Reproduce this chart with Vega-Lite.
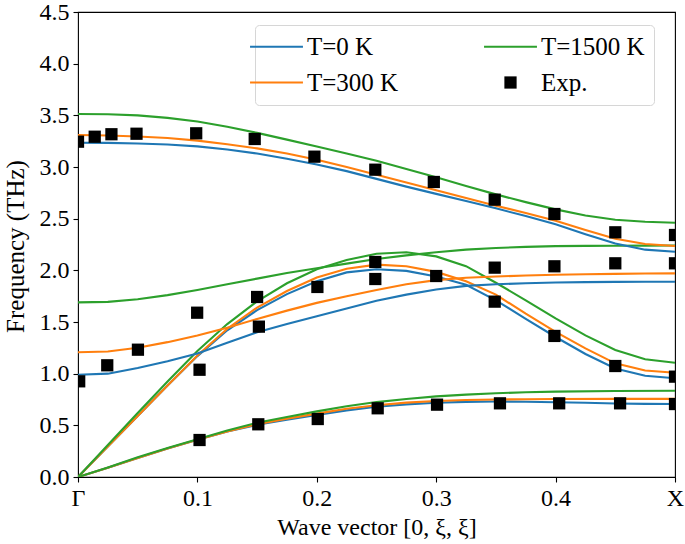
{
  "$schema": "https://vega.github.io/schema/vega-lite/v6.json",
  "width": 597,
  "height": 465,
  "autosize": {"type": "none"},
  "padding": {"left": 78, "top": 12, "right": 10, "bottom": 67},
  "background": "white",
  "config": {
    "view": {"stroke": "black", "strokeWidth": 1.1},
    "font": "Liberation Serif",
    "axis": {
      "labelFont": "Liberation Serif", "labelFontSize": 24, "labelColor": "black",
      "titleFont": "Liberation Serif", "titleFontSize": 24, "titleColor": "black", "titleFontWeight": "normal",
      "grid": false, "domain": false, "tickColor": "black", "tickWidth": 1.1, "tickSize": 5
    }
  },
  "datasets": {
    "curves": [
      {"series":"T=0 K","branch":"TA","q":0,"f":0},{"series":"T=0 K","branch":"TA","q":0.025,"f":0.09},{"series":"T=0 K","branch":"TA","q":0.05,"f":0.185},{"series":"T=0 K","branch":"TA","q":0.075,"f":0.275},{"series":"T=0 K","branch":"TA","q":0.1,"f":0.36},{"series":"T=0 K","branch":"TA","q":0.125,"f":0.44},{"series":"T=0 K","branch":"TA","q":0.15,"f":0.505},{"series":"T=0 K","branch":"TA","q":0.175,"f":0.555},{"series":"T=0 K","branch":"TA","q":0.2,"f":0.6},{"series":"T=0 K","branch":"TA","q":0.225,"f":0.645},{"series":"T=0 K","branch":"TA","q":0.25,"f":0.68},{"series":"T=0 K","branch":"TA","q":0.275,"f":0.703},{"series":"T=0 K","branch":"TA","q":0.3,"f":0.718},{"series":"T=0 K","branch":"TA","q":0.325,"f":0.727},{"series":"T=0 K","branch":"TA","q":0.35,"f":0.73},{"series":"T=0 K","branch":"TA","q":0.375,"f":0.728},{"series":"T=0 K","branch":"TA","q":0.4,"f":0.724},{"series":"T=0 K","branch":"TA","q":0.425,"f":0.718},{"series":"T=0 K","branch":"TA","q":0.45,"f":0.712},{"series":"T=0 K","branch":"TA","q":0.475,"f":0.708},{"series":"T=0 K","branch":"TA","q":0.5,"f":0.706},
      {"series":"T=300 K","branch":"TA","q":0,"f":0},{"series":"T=300 K","branch":"TA","q":0.025,"f":0.09},{"series":"T=300 K","branch":"TA","q":0.05,"f":0.185},{"series":"T=300 K","branch":"TA","q":0.075,"f":0.275},{"series":"T=300 K","branch":"TA","q":0.1,"f":0.36},{"series":"T=300 K","branch":"TA","q":0.125,"f":0.44},{"series":"T=300 K","branch":"TA","q":0.15,"f":0.512},{"series":"T=300 K","branch":"TA","q":0.175,"f":0.565},{"series":"T=300 K","branch":"TA","q":0.2,"f":0.613},{"series":"T=300 K","branch":"TA","q":0.225,"f":0.66},{"series":"T=300 K","branch":"TA","q":0.25,"f":0.695},{"series":"T=300 K","branch":"TA","q":0.275,"f":0.72},{"series":"T=300 K","branch":"TA","q":0.3,"f":0.735},{"series":"T=300 K","branch":"TA","q":0.325,"f":0.745},{"series":"T=300 K","branch":"TA","q":0.35,"f":0.75},{"series":"T=300 K","branch":"TA","q":0.375,"f":0.753},{"series":"T=300 K","branch":"TA","q":0.4,"f":0.755},{"series":"T=300 K","branch":"TA","q":0.45,"f":0.756},{"series":"T=300 K","branch":"TA","q":0.5,"f":0.756},
      {"series":"T=1500 K","branch":"TA","q":0,"f":0},{"series":"T=1500 K","branch":"TA","q":0.025,"f":0.093},{"series":"T=1500 K","branch":"TA","q":0.05,"f":0.19},{"series":"T=1500 K","branch":"TA","q":0.075,"f":0.28},{"series":"T=1500 K","branch":"TA","q":0.1,"f":0.365},{"series":"T=1500 K","branch":"TA","q":0.125,"f":0.45},{"series":"T=1500 K","branch":"TA","q":0.15,"f":0.525},{"series":"T=1500 K","branch":"TA","q":0.175,"f":0.58},{"series":"T=1500 K","branch":"TA","q":0.2,"f":0.635},{"series":"T=1500 K","branch":"TA","q":0.225,"f":0.685},{"series":"T=1500 K","branch":"TA","q":0.25,"f":0.725},{"series":"T=1500 K","branch":"TA","q":0.275,"f":0.755},{"series":"T=1500 K","branch":"TA","q":0.3,"f":0.78},{"series":"T=1500 K","branch":"TA","q":0.325,"f":0.797},{"series":"T=1500 K","branch":"TA","q":0.35,"f":0.81},{"series":"T=1500 K","branch":"TA","q":0.375,"f":0.82},{"series":"T=1500 K","branch":"TA","q":0.4,"f":0.826},{"series":"T=1500 K","branch":"TA","q":0.45,"f":0.832},{"series":"T=1500 K","branch":"TA","q":0.5,"f":0.835},
      {"series":"T=0 K","branch":"LA","q":0,"f":0},{"series":"T=0 K","branch":"LA","q":0.025,"f":0.295},{"series":"T=0 K","branch":"LA","q":0.05,"f":0.59},{"series":"T=0 K","branch":"LA","q":0.075,"f":0.885},{"series":"T=0 K","branch":"LA","q":0.1,"f":1.17},{"series":"T=0 K","branch":"LA","q":0.125,"f":1.42},{"series":"T=0 K","branch":"LA","q":0.15,"f":1.615},{"series":"T=0 K","branch":"LA","q":0.175,"f":1.77},{"series":"T=0 K","branch":"LA","q":0.2,"f":1.895},{"series":"T=0 K","branch":"LA","q":0.225,"f":1.98},{"series":"T=0 K","branch":"LA","q":0.25,"f":2.01},{"series":"T=0 K","branch":"LA","q":0.275,"f":1.995},{"series":"T=0 K","branch":"LA","q":0.3,"f":1.94},{"series":"T=0 K","branch":"LA","q":0.325,"f":1.86},{"series":"T=0 K","branch":"LA","q":0.35,"f":1.71},{"series":"T=0 K","branch":"LA","q":0.375,"f":1.53},{"series":"T=0 K","branch":"LA","q":0.4,"f":1.355},{"series":"T=0 K","branch":"LA","q":0.425,"f":1.19},{"series":"T=0 K","branch":"LA","q":0.45,"f":1.05},{"series":"T=0 K","branch":"LA","q":0.475,"f":0.98},{"series":"T=0 K","branch":"LA","q":0.5,"f":0.955},
      {"series":"T=300 K","branch":"LA","q":0,"f":0},{"series":"T=300 K","branch":"LA","q":0.025,"f":0.295},{"series":"T=300 K","branch":"LA","q":0.05,"f":0.59},{"series":"T=300 K","branch":"LA","q":0.075,"f":0.885},{"series":"T=300 K","branch":"LA","q":0.1,"f":1.175},{"series":"T=300 K","branch":"LA","q":0.125,"f":1.435},{"series":"T=300 K","branch":"LA","q":0.15,"f":1.64},{"series":"T=300 K","branch":"LA","q":0.175,"f":1.8},{"series":"T=300 K","branch":"LA","q":0.2,"f":1.93},{"series":"T=300 K","branch":"LA","q":0.225,"f":2.015},{"series":"T=300 K","branch":"LA","q":0.25,"f":2.055},{"series":"T=300 K","branch":"LA","q":0.275,"f":2.04},{"series":"T=300 K","branch":"LA","q":0.3,"f":1.985},{"series":"T=300 K","branch":"LA","q":0.325,"f":1.895},{"series":"T=300 K","branch":"LA","q":0.35,"f":1.765},{"series":"T=300 K","branch":"LA","q":0.375,"f":1.58},{"series":"T=300 K","branch":"LA","q":0.4,"f":1.405},{"series":"T=300 K","branch":"LA","q":0.425,"f":1.245},{"series":"T=300 K","branch":"LA","q":0.45,"f":1.1},{"series":"T=300 K","branch":"LA","q":0.475,"f":1.03},{"series":"T=300 K","branch":"LA","q":0.5,"f":1.009},
      {"series":"T=1500 K","branch":"LA","q":0,"f":0},{"series":"T=1500 K","branch":"LA","q":0.025,"f":0.31},{"series":"T=1500 K","branch":"LA","q":0.05,"f":0.62},{"series":"T=1500 K","branch":"LA","q":0.075,"f":0.925},{"series":"T=1500 K","branch":"LA","q":0.1,"f":1.22},{"series":"T=1500 K","branch":"LA","q":0.125,"f":1.48},{"series":"T=1500 K","branch":"LA","q":0.15,"f":1.7},{"series":"T=1500 K","branch":"LA","q":0.175,"f":1.875},{"series":"T=1500 K","branch":"LA","q":0.2,"f":2.01},{"series":"T=1500 K","branch":"LA","q":0.225,"f":2.1},{"series":"T=1500 K","branch":"LA","q":0.25,"f":2.16},{"series":"T=1500 K","branch":"LA","q":0.275,"f":2.175},{"series":"T=1500 K","branch":"LA","q":0.3,"f":2.135},{"series":"T=1500 K","branch":"LA","q":0.325,"f":2.04},{"series":"T=1500 K","branch":"LA","q":0.35,"f":1.88},{"series":"T=1500 K","branch":"LA","q":0.375,"f":1.71},{"series":"T=1500 K","branch":"LA","q":0.4,"f":1.535},{"series":"T=1500 K","branch":"LA","q":0.425,"f":1.37},{"series":"T=1500 K","branch":"LA","q":0.45,"f":1.23},{"series":"T=1500 K","branch":"LA","q":0.475,"f":1.14},{"series":"T=1500 K","branch":"LA","q":0.5,"f":1.106},
      {"series":"T=0 K","branch":"O1","q":0,"f":0.99},{"series":"T=0 K","branch":"O1","q":0.025,"f":1.0},{"series":"T=0 K","branch":"O1","q":0.05,"f":1.055},{"series":"T=0 K","branch":"O1","q":0.075,"f":1.12},{"series":"T=0 K","branch":"O1","q":0.1,"f":1.195},{"series":"T=0 K","branch":"O1","q":0.125,"f":1.3},{"series":"T=0 K","branch":"O1","q":0.15,"f":1.4},{"series":"T=0 K","branch":"O1","q":0.175,"f":1.48},{"series":"T=0 K","branch":"O1","q":0.2,"f":1.555},{"series":"T=0 K","branch":"O1","q":0.225,"f":1.63},{"series":"T=0 K","branch":"O1","q":0.25,"f":1.705},{"series":"T=0 K","branch":"O1","q":0.275,"f":1.765},{"series":"T=0 K","branch":"O1","q":0.3,"f":1.815},{"series":"T=0 K","branch":"O1","q":0.325,"f":1.85},{"series":"T=0 K","branch":"O1","q":0.35,"f":1.865},{"series":"T=0 K","branch":"O1","q":0.375,"f":1.875},{"series":"T=0 K","branch":"O1","q":0.4,"f":1.882},{"series":"T=0 K","branch":"O1","q":0.425,"f":1.886},{"series":"T=0 K","branch":"O1","q":0.45,"f":1.888},{"series":"T=0 K","branch":"O1","q":0.475,"f":1.89},{"series":"T=0 K","branch":"O1","q":0.5,"f":1.89},
      {"series":"T=300 K","branch":"O1","q":0,"f":1.207},{"series":"T=300 K","branch":"O1","q":0.025,"f":1.215},{"series":"T=300 K","branch":"O1","q":0.05,"f":1.25},{"series":"T=300 K","branch":"O1","q":0.075,"f":1.305},{"series":"T=300 K","branch":"O1","q":0.1,"f":1.37},{"series":"T=300 K","branch":"O1","q":0.125,"f":1.445},{"series":"T=300 K","branch":"O1","q":0.15,"f":1.53},{"series":"T=300 K","branch":"O1","q":0.175,"f":1.61},{"series":"T=300 K","branch":"O1","q":0.2,"f":1.685},{"series":"T=300 K","branch":"O1","q":0.225,"f":1.75},{"series":"T=300 K","branch":"O1","q":0.25,"f":1.81},{"series":"T=300 K","branch":"O1","q":0.275,"f":1.865},{"series":"T=300 K","branch":"O1","q":0.3,"f":1.905},{"series":"T=300 K","branch":"O1","q":0.325,"f":1.928},{"series":"T=300 K","branch":"O1","q":0.35,"f":1.94},{"series":"T=300 K","branch":"O1","q":0.375,"f":1.95},{"series":"T=300 K","branch":"O1","q":0.4,"f":1.957},{"series":"T=300 K","branch":"O1","q":0.425,"f":1.962},{"series":"T=300 K","branch":"O1","q":0.45,"f":1.966},{"series":"T=300 K","branch":"O1","q":0.475,"f":1.969},{"series":"T=300 K","branch":"O1","q":0.5,"f":1.971},
      {"series":"T=1500 K","branch":"O1","q":0,"f":1.69},{"series":"T=1500 K","branch":"O1","q":0.025,"f":1.695},{"series":"T=1500 K","branch":"O1","q":0.05,"f":1.72},{"series":"T=1500 K","branch":"O1","q":0.075,"f":1.76},{"series":"T=1500 K","branch":"O1","q":0.1,"f":1.81},{"series":"T=1500 K","branch":"O1","q":0.125,"f":1.865},{"series":"T=1500 K","branch":"O1","q":0.15,"f":1.92},{"series":"T=1500 K","branch":"O1","q":0.175,"f":1.975},{"series":"T=1500 K","branch":"O1","q":0.2,"f":2.02},{"series":"T=1500 K","branch":"O1","q":0.225,"f":2.065},{"series":"T=1500 K","branch":"O1","q":0.25,"f":2.11},{"series":"T=1500 K","branch":"O1","q":0.275,"f":2.145},{"series":"T=1500 K","branch":"O1","q":0.3,"f":2.175},{"series":"T=1500 K","branch":"O1","q":0.325,"f":2.2},{"series":"T=1500 K","branch":"O1","q":0.35,"f":2.216},{"series":"T=1500 K","branch":"O1","q":0.375,"f":2.227},{"series":"T=1500 K","branch":"O1","q":0.4,"f":2.234},{"series":"T=1500 K","branch":"O1","q":0.425,"f":2.237},{"series":"T=1500 K","branch":"O1","q":0.45,"f":2.238},{"series":"T=1500 K","branch":"O1","q":0.475,"f":2.239},{"series":"T=1500 K","branch":"O1","q":0.5,"f":2.24},
      {"series":"T=0 K","branch":"O2","q":0,"f":3.235},{"series":"T=0 K","branch":"O2","q":0.025,"f":3.233},{"series":"T=0 K","branch":"O2","q":0.05,"f":3.228},{"series":"T=0 K","branch":"O2","q":0.075,"f":3.218},{"series":"T=0 K","branch":"O2","q":0.1,"f":3.2},{"series":"T=0 K","branch":"O2","q":0.125,"f":3.17},{"series":"T=0 K","branch":"O2","q":0.15,"f":3.13},{"series":"T=0 K","branch":"O2","q":0.175,"f":3.08},{"series":"T=0 K","branch":"O2","q":0.2,"f":3.025},{"series":"T=0 K","branch":"O2","q":0.225,"f":2.96},{"series":"T=0 K","branch":"O2","q":0.25,"f":2.885},{"series":"T=0 K","branch":"O2","q":0.275,"f":2.81},{"series":"T=0 K","branch":"O2","q":0.3,"f":2.74},{"series":"T=0 K","branch":"O2","q":0.325,"f":2.67},{"series":"T=0 K","branch":"O2","q":0.35,"f":2.6},{"series":"T=0 K","branch":"O2","q":0.375,"f":2.525},{"series":"T=0 K","branch":"O2","q":0.4,"f":2.445},{"series":"T=0 K","branch":"O2","q":0.425,"f":2.35},{"series":"T=0 K","branch":"O2","q":0.45,"f":2.26},{"series":"T=0 K","branch":"O2","q":0.475,"f":2.2},{"series":"T=0 K","branch":"O2","q":0.5,"f":2.18},
      {"series":"T=300 K","branch":"O2","q":0,"f":3.31},{"series":"T=300 K","branch":"O2","q":0.025,"f":3.305},{"series":"T=300 K","branch":"O2","q":0.05,"f":3.295},{"series":"T=300 K","branch":"O2","q":0.075,"f":3.28},{"series":"T=300 K","branch":"O2","q":0.1,"f":3.255},{"series":"T=300 K","branch":"O2","q":0.125,"f":3.22},{"series":"T=300 K","branch":"O2","q":0.15,"f":3.18},{"series":"T=300 K","branch":"O2","q":0.175,"f":3.13},{"series":"T=300 K","branch":"O2","q":0.2,"f":3.07},{"series":"T=300 K","branch":"O2","q":0.225,"f":3.0},{"series":"T=300 K","branch":"O2","q":0.25,"f":2.925},{"series":"T=300 K","branch":"O2","q":0.275,"f":2.85},{"series":"T=300 K","branch":"O2","q":0.3,"f":2.775},{"series":"T=300 K","branch":"O2","q":0.325,"f":2.7},{"series":"T=300 K","branch":"O2","q":0.35,"f":2.625},{"series":"T=300 K","branch":"O2","q":0.375,"f":2.555},{"series":"T=300 K","branch":"O2","q":0.4,"f":2.48},{"series":"T=300 K","branch":"O2","q":0.425,"f":2.39},{"series":"T=300 K","branch":"O2","q":0.45,"f":2.305},{"series":"T=300 K","branch":"O2","q":0.475,"f":2.255},{"series":"T=300 K","branch":"O2","q":0.5,"f":2.236},
      {"series":"T=1500 K","branch":"O2","q":0,"f":3.513},{"series":"T=1500 K","branch":"O2","q":0.025,"f":3.51},{"series":"T=1500 K","branch":"O2","q":0.05,"f":3.5},{"series":"T=1500 K","branch":"O2","q":0.075,"f":3.475},{"series":"T=1500 K","branch":"O2","q":0.1,"f":3.44},{"series":"T=1500 K","branch":"O2","q":0.125,"f":3.39},{"series":"T=1500 K","branch":"O2","q":0.15,"f":3.33},{"series":"T=1500 K","branch":"O2","q":0.175,"f":3.265},{"series":"T=1500 K","branch":"O2","q":0.2,"f":3.198},{"series":"T=1500 K","branch":"O2","q":0.225,"f":3.13},{"series":"T=1500 K","branch":"O2","q":0.25,"f":3.06},{"series":"T=1500 K","branch":"O2","q":0.275,"f":2.98},{"series":"T=1500 K","branch":"O2","q":0.3,"f":2.9},{"series":"T=1500 K","branch":"O2","q":0.325,"f":2.815},{"series":"T=1500 K","branch":"O2","q":0.35,"f":2.735},{"series":"T=1500 K","branch":"O2","q":0.375,"f":2.66},{"series":"T=1500 K","branch":"O2","q":0.4,"f":2.59},{"series":"T=1500 K","branch":"O2","q":0.425,"f":2.53},{"series":"T=1500 K","branch":"O2","q":0.45,"f":2.49},{"series":"T=1500 K","branch":"O2","q":0.475,"f":2.47},{"series":"T=1500 K","branch":"O2","q":0.5,"f":2.461}
    ],
    "exp": [
      {"q":0,"f":3.245},{"q":0.014,"f":3.293},{"q":0.028,"f":3.317},{"q":0.049,"f":3.322},{"q":0.099,"f":3.326},{"q":0.148,"f":3.271},{"q":0.198,"f":3.1},{"q":0.249,"f":2.974},{"q":0.298,"f":2.855},{"q":0.349,"f":2.684},{"q":0.399,"f":2.545},{"q":0.45,"f":2.368},{"q":0.5,"f":2.342},
      {"q":0.349,"f":2.026},{"q":0.399,"f":2.039},{"q":0.45,"f":2.068},{"q":0.5,"f":2.068},{"q":0.249,"f":2.081},{"q":0.249,"f":1.916},{"q":0.3,"f":1.945},{"q":0.2005,"f":1.839},
      {"q":0.349,"f":1.697},{"q":0.399,"f":1.365},{"q":0.45,"f":1.074},{"q":0.5,"f":0.971},
      {"q":0.15,"f":1.742},{"q":0.1515,"f":1.455},{"q":0.0998,"f":1.59},{"q":0.1018,"f":1.038},{"q":0.0502,"f":1.232},{"q":0.0245,"f":1.081},{"q":0.001,"f":0.926},
      {"q":0.1018,"f":0.358},{"q":0.151,"f":0.51},{"q":0.2008,"f":0.561},{"q":0.251,"f":0.665},{"q":0.3007,"f":0.7},{"q":0.3534,"f":0.713},{"q":0.403,"f":0.713},{"q":0.454,"f":0.713},{"q":0.5,"f":0.706}
    ]
  },
  "encoding": {
    "x": {
      "field": "q", "type": "quantitative",
      "scale": {"domain": [0, 0.5], "nice": false, "zero": false},
      "axis": {
        "values": [0, 0.1, 0.2, 0.3, 0.4, 0.5],
        "labelExpr": "datum.value == 0 ? 'Γ' : datum.value == 0.5 ? 'X' : format(datum.value, '.1f')",
        "labelFlush": false, "labelOverlap": false, "labelPadding": 4,
        "title": "Wave vector [0, ξ, ξ]",
        "titleY": 57, "titleBaseline": "alphabetic"
      }
    },
    "y": {
      "field": "f", "type": "quantitative",
      "scale": {"domain": [0, 4.5], "nice": false},
      "axis": {
        "values": [0, 0.5, 1, 1.5, 2, 2.5, 3, 3.5, 4, 4.5],
        "format": ".1f", "labelPadding": 4, "labelFlush": false, "labelOverlap": false,
        "title": "Frequency (THz)", "titleFontSize": 25,
        "titleX": -55, "titleY": 234, "titleBaseline": "alphabetic"
      }
    }
  },
  "layer": [
    {
      "data": {"name": "curves"},
      "mark": {"type": "line", "strokeWidth": 2.1, "clip": true},
      "encoding": {
        "detail": {"field": "branch"},
        "color": {
          "field": "series", "type": "nominal",
          "scale": {"domain": ["T=0 K", "T=300 K", "T=1500 K", "Exp."], "range": ["#1f77b4", "#ff7f0e", "#2ca02c", "black"]},
          "legend": {
            "title": null, "orient": "none", "legendX": 177, "legendY": 13,
            "columns": 2, "columnPadding": 80, "rowPadding": 10, "padding": 9,
            "symbolType": "stroke", "symbolSize": 2800, "symbolStrokeWidth": 2.1,
            "labelFont": "Liberation Serif", "labelFontSize": 25, "labelColor": "black", "labelOffset": 18,
            "strokeColor": "#d6d6d6", "fillColor": "rgba(255,255,255,0.8)", "cornerRadius": 4,
            "encode": {
              "symbols": {
                "update": {
                  "shape": {"signal": "datum.value === 'Exp.' ? 'square' : 'stroke'"},
                  "size": {"signal": "datum.value === 'Exp.' ? 150 : 2800"},
                  "fill": {"signal": "datum.value === 'Exp.' ? 'black' : 'transparent'"},
                  "strokeWidth": {"signal": "datum.value === 'Exp.' ? 0 : 2.1"}
                }
              }
            }
          }
        }
      }
    },
    {
      "data": {"name": "exp"},
      "mark": {"type": "point", "shape": "square", "filled": true, "size": 150, "opacity": 1, "clip": true},
      "encoding": {
        "color": {"datum": "Exp."}
      }
    }
  ]
}
